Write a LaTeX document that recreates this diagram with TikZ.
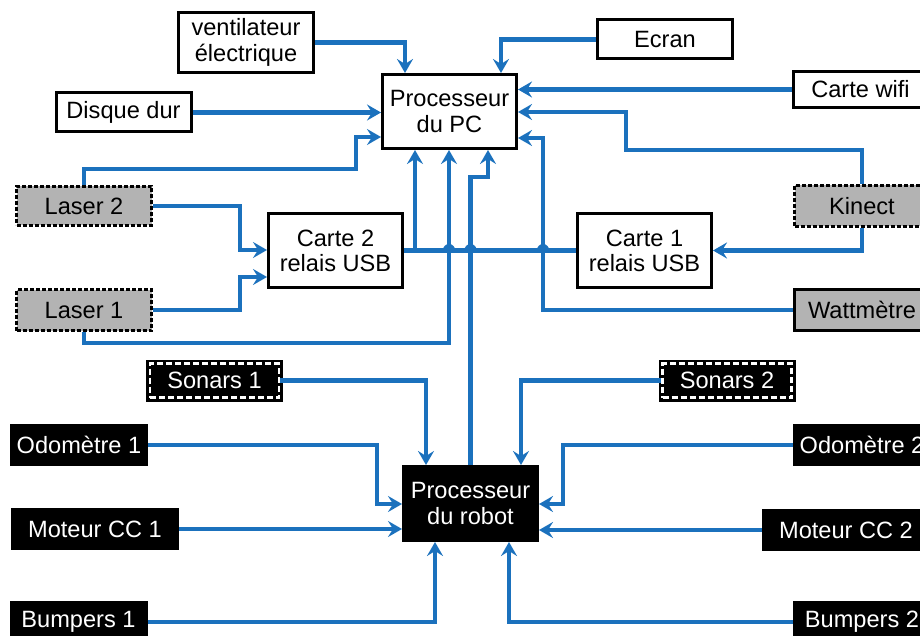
\documentclass[tikz,border=0pt]{standalone}
\usepackage{fontspec}
\setmainfont{Liberation Sans}
\usetikzlibrary{arrows.meta}
\definecolor{WireBlue}{HTML}{1B71BD}
\definecolor{SensorGray}{HTML}{B3B3B3}

\begin{document}
\begin{tikzpicture}[
    x=0.5pt, y=-0.5pt,
    box/.style={rectangle,draw=black,fill=white,line width=1.5pt,
      font=\fontsize{11.8}{12.6}\selectfont,inner sep=1pt,align=center,
      minimum width=67.5pt,minimum height=19.5pt},
    big/.style={box,minimum width=67pt,minimum height=37pt},
    sens/.style={box,fill=SensorGray,dash pattern=on 2pt off 1pt},
    blk/.style={box,fill=black,text=white},
    son/.style={blk,draw=white,line width=1.2pt,dash pattern=on 3pt off 1.5pt,
      preaction={draw=black,solid,line width=4pt},
      minimum width=64.5pt,minimum height=17pt},
    wire/.style={draw=WireBlue,line width=2.2pt},
    >={Stealth[length=7pt,width=8pt,inset=2.5pt]},
  ]
  \useasboundingbox (0,0) rectangle (920,636);
  \clip (0,0) rectangle (920,636);
  % PC side
  \node[big] (pc) at (449.5,111.5) {Processeur\\du PC};
  \node[box,minimum height=30pt] (vent) at (246,42.5) {ventilateur\\électrique};
  \node[box] (ecran) at (665,39.5) {Ecran};
  \node[box] (disk) at (123.5,112.5) {Disque dur};
  \node[box,minimum height=18pt] (wifi) at (860.5,89.5) {Carte wifi};
  \node[sens] (laser2) at (84,206) {Laser 2};
  \node[sens,minimum height=20.5pt] (laser1) at (84,310) {Laser 1};
  \node[big] (carte2) at (335.5,250.5) {Carte 2\\relais USB};
  \node[big] (carte1) at (644.5,250.5) {Carte 1\\relais USB};
  \node[sens,minimum height=20.5pt] (kinect) at (862,206) {Kinect};
  \node[box,fill=SensorGray,minimum height=20.5pt] (watt) at (862,310) {Wattmètre};
  % robot side
  \node[big,fill=black,text=white] (robot) at (470.5,503.5) {Processeur\\du robot};
  \node[son] (sonar1) at (214.5,380.5) {Sonars 1};
  \node[son] (sonar2) at (727,380.5) {Sonars 2};
  \node[blk] (odo1) at (79,445) {Odomètre 1};
  \node[blk,minimum width=82.5pt] (mot1) at (95,529) {Moteur CC 1};
  \node[blk] (bump1) at (78.5,622) {Bumpers 1};
  \node[blk] (odo2) at (862,445) {Odomètre 2};
  \node[blk,minimum width=82.5pt] (mot2) at (846,530) {Moteur CC 2};
  \node[blk] (bump2) at (862,622) {Bumpers 2};
  % wires into the PC
  \draw[wire,->] (vent.east) -| (405,0 |- pc.north);
  \draw[wire,->] (ecran.west) -| (501,0 |- pc.north);
  \draw[wire,->] (disk.east) -- (pc.west |- disk.east);
  \draw[wire,->] (laser2.north) |- (356,169) |- (pc.west |- 0,137);
  \draw[wire,->] (wifi.west) -- (pc.east |- wifi.west);
  \draw[wire,->] (kinect.north) |- (626,150) |- (pc.east |- 0,112);
  \draw[wire,->] (watt.west) -| (543,138) -- (pc.east |- 0,138);
  \draw[wire,->] (laser1.south) |- (449,343) -- (449,0 |- pc.south);
  \draw[wire,->] (robot.north) |- (488,177) -- (488,0 |- pc.south);
  % USB relay bus
  \draw[wire] (carte2.east) -- (carte1.west);
  \draw[wire,->] (carte2.east -| 415,0) -- (415,0 |- pc.south);
  \draw[wire,->] (kinect.south) |- (carte1.east);
  \draw[wire,->] (laser2.east) -| (240,250) -- (carte2.west |- 0,250);
  \draw[wire,->] (laser1.east) -| (240,277) -- (carte2.west |- 0,277);
  \foreach \hx in {449,470.5,543}
    \fill[WireBlue] (\hx,250) +(-6,0) arc[start angle=180,end angle=360,radius=6];
  % wires into the robot
  \draw[wire,->] (sonar1.east) -| (426,0 |- robot.north);
  \draw[wire,->] (sonar2.west) -| (521,0 |- robot.north);
  \draw[wire,->] (odo1.east) -| (377,504) -- (robot.west |- 0,504);
  \draw[wire,->] (mot1.east) -- (robot.west |- mot1.east);
  \draw[wire,->] (bump1.east) -| (435,0 |- robot.south);
  \draw[wire,->] (odo2.west) -| (563,504) -- (robot.east |- 0,504);
  \draw[wire,->] (mot2.west) -- (robot.east |- mot2.west);
  \draw[wire,->] (bump2.west) -| (509,0 |- robot.south);
\end{tikzpicture}
\end{document}
